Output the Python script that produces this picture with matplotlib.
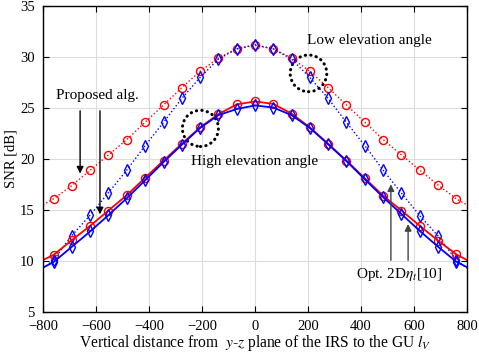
import matplotlib
matplotlib.use("Agg")
import matplotlib.pyplot as plt
from matplotlib.patches import Ellipse

plt.rcParams["font.family"] = ["Liberation Serif", "DejaVu Serif"]
plt.rcParams["mathtext.fontset"] = "stix"

# x positions (line endpoints at the axis edges, markers at the 23 inner points)
x = [-800, -760, -691, -622, -553, -484, -415, -345, -276, -207, -138, -69, 0,
     69, 138, 207, 276, 345, 415, 484, 553, 622, 691, 760, 800]

# low elevation angle
prop_low = [15.5, 16.1, 17.4, 18.9, 20.4, 21.9, 23.6, 25.3, 27.0, 28.6, 29.9, 30.8, 31.15,
            30.8, 29.9, 28.6, 27.0, 25.3, 23.6, 21.9, 20.4, 18.9, 17.45, 16.1, 15.5]
opt_low = [9.3, 10.1, 12.5, 14.5, 16.7, 18.9, 21.3, 23.6, 25.95, 28.0, 29.8, 30.8, 31.2,
           30.8, 29.8, 28.0, 25.95, 23.6, 21.3, 18.9, 16.65, 14.45, 12.45, 10.1, 9.3]

# high elevation angle
prop_high = [10.1, 10.6, 12.05, 13.45, 14.95, 16.45, 18.15, 19.85, 21.5, 23.1, 24.4, 25.35, 25.65,
             25.4, 24.45, 23.1, 21.5, 19.85, 18.1, 16.4, 14.95, 13.45, 12.0, 10.65, 10.1]
opt_high = [9.35, 9.9, 11.4, 12.9, 14.5, 16.15, 17.9, 19.7, 21.4, 23.05, 24.3, 24.9, 25.25,
            25.05, 24.3, 23.05, 21.45, 19.8, 18.0, 16.25, 14.6, 12.95, 11.4, 9.93, 9.4]

xticks = [-800, -600, -400, -200, 0, 200, 400, 600, 800]
yticks = [5, 10, 15, 20, 25, 30, 35]

fig = plt.figure(figsize=(4.79, 3.6), dpi=100)
ax = fig.add_axes([0.0898, 0.1333, 0.885, 0.85])

mk = dict(markevery=slice(1, -1), markersize=5.8, markerfacecolor="none", markeredgewidth=1.0)
ax.plot(x, prop_low, ":", color="red", lw=1.0, marker="o", **mk)
ax.plot(x, opt_low, ":", color="blue", lw=1.0, marker="d", **mk)
ax.plot(x, prop_high, "-", color="red", lw=1.3, marker="o", **mk)
ax.plot(x, opt_high, "-", color="blue", lw=1.3, marker="d", **mk)

ax.set_xlim(-800, 800)
ax.set_ylim(5, 35)
ax.set_xticks(xticks)
ax.set_yticks(yticks)
ax.tick_params(direction="in", top=True, right=True, labelsize=10.5, length=4)
ax.tick_params(axis="x", pad=6)
ax.tick_params(axis="y", pad=6)
ax.grid(True, color="#dddddd", lw=0.8)
ax.set_axisbelow(True)
for s in ax.spines.values():
    s.set_linewidth(1.0)

ax.set_xlabel(r"Vertical distance from  $y$-$z$ plane of the IRS to the GU $l_V$", fontsize=11.2, labelpad=0)
ax.set_ylabel("SNR [dB]", fontsize=10.5, labelpad=2)

# dotted circles
dots = dict(fill=False, ls=(0, (0.1, 1.7)), lw=2.2, color="black", capstyle="round")
ax.add_patch(Ellipse((202, 28.4), 138, 3.6, **dots))
ax.add_patch(Ellipse((-206, 23.0), 136, 3.55, **dots))

ax.text(432, 31.6, "Low elevation angle", fontsize=11, ha="center", va="center")
ax.text(0, 19.75, "High elevation angle", fontsize=11, ha="center", va="center")

ax.text(-594, 26.2, "Proposed alg.", fontsize=11, ha="center", va="center")
ax.annotate("", xy=(-660, 18.3), xytext=(-660, 25.0),
            arrowprops=dict(arrowstyle="-|>", color="black", lw=1.0, mutation_scale=10))
ax.annotate("", xy=(-585, 14.3), xytext=(-585, 25.0),
            arrowprops=dict(arrowstyle="-|>", color="black", lw=1.0, mutation_scale=10))

ax.text(543, 8.7, r"Opt. 2D$\eta_t$[10]", fontsize=11, ha="center", va="center")
ax.annotate("", xy=(513, 17.8), xytext=(513, 9.8),
            arrowprops=dict(arrowstyle="-|>", color="#444444", lw=1.0, mutation_scale=10))
ax.annotate("", xy=(578, 13.9), xytext=(578, 9.8),
            arrowprops=dict(arrowstyle="-|>", color="#444444", lw=1.0, mutation_scale=10))

fig.savefig("out.png", dpi=100)
